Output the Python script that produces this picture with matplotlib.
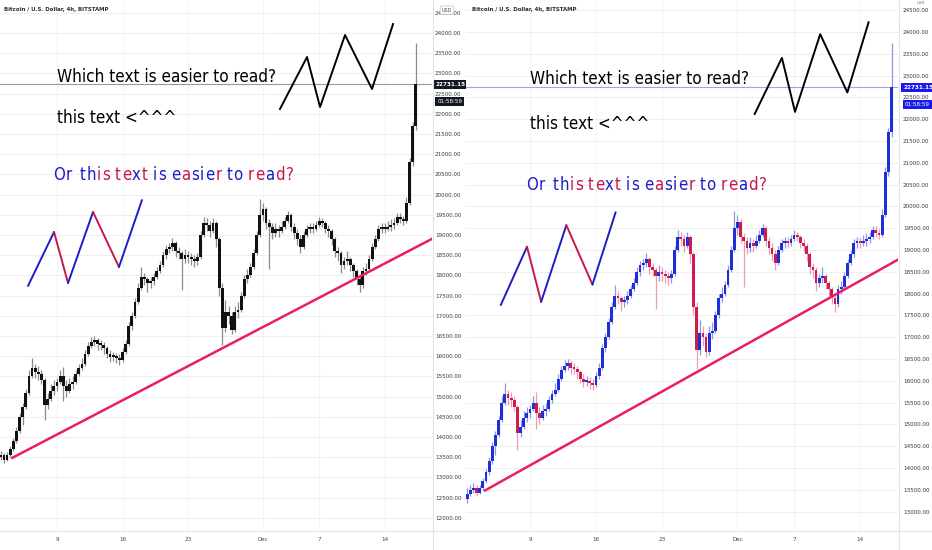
import numpy as np
import matplotlib
matplotlib.use("Agg")
import matplotlib.pyplot as plt
import matplotlib.transforms as mtransforms
from matplotlib import font_manager as fm
from matplotlib.lines import Line2D

# --- data: BTC/USD, one candle every 8 hours ---
# time axis = days counted from Nov 9 00:00
first_time = -6.667
step_days = 1 / 3
first_open = 13300

closes = [13400, 13500, 13550, 13420, 13550, 13700, 13900, 14150, 14500, 14750,
          15100, 15500, 15700, 15600, 15550, 15400, 14800, 14950, 15150, 15250,
          15350, 15500, 15250, 15150, 15300, 15350, 15550, 15700, 15800, 16050,
          16250, 16350, 16400, 16300, 16280, 16200, 16050, 15980, 16000, 15950,
          15900, 16100, 16300, 16750, 17000, 17350, 17700, 17950, 17900, 17800,
          17850, 17950, 18100, 18250, 18500, 18650, 18700, 18800, 18600, 18550,
          18400, 18500, 18450, 18400, 18350, 18450, 19000, 19300, 19250, 19100,
          19300, 18900, 17700, 16700, 17100, 17000, 16650, 17100, 17150, 17500,
          17900, 18000, 18200, 18550, 19000, 19500, 19650, 19300, 19200, 19050,
          19150, 19100, 19200, 19350, 19500, 19200, 19050, 18900, 18700, 19000,
          19150, 19200, 19150, 19250, 19350, 19300, 19150, 19100, 18900, 18600,
          18550, 18250, 18350, 18400, 18250, 18100, 17900, 17750, 18100, 18150,
          18400, 18700, 18900, 19150, 19200, 19150, 19200, 19250, 19300, 19450,
          19400, 19350, 19800, 20800, 21700, 22731.15]

highs = [13550, 13600, 13650, 13600, 13620, 13780, 13980, 14250, 14600, 14850,
         15200, 15650, 15950, 15800, 15750, 15650, 15450, 15100, 15300, 15400,
         15450, 15650, 15740, 15400, 15450, 15500, 15650, 15800, 15950, 16150,
         16350, 16480, 16500, 16450, 16400, 16350, 16250, 16150, 16100, 16080,
         16050, 16200, 16400, 16850, 17100, 17450, 17800, 18200, 18050, 17950,
         17950, 18050, 18200, 18350, 18600, 18750, 18800, 18920, 18850, 18700,
         18600, 18650, 18600, 18550, 18500, 18550, 19100, 19450, 19420, 19350,
         19420, 19350, 18950, 17800, 17400, 17250, 17100, 17250, 17350, 17600,
         18000, 18150, 18300, 18650, 19100, 19900, 19800, 19700, 19400, 19300,
         19300, 19250, 19350, 19450, 19600, 19550, 19300, 19150, 19000, 19100,
         19250, 19300, 19300, 19350, 19450, 19420, 19350, 19250, 19150, 18950,
         18700, 18600, 18450, 18600, 18450, 18300, 18150, 18000, 18200, 18300,
         18500, 18800, 19000, 19250, 19300, 19300, 19350, 19400, 19420, 19550,
         19550, 19480, 19950, 20900, 21800, 23750]

lows = [13200, 13350, 13420, 13360, 13400, 13500, 13650, 13850, 14100, 14300,
        14700, 15050, 15450, 15450, 15400, 15300, 14420, 14700, 14900, 15050,
        15150, 15300, 14900, 15000, 15100, 15200, 15300, 15500, 15650, 15750,
        16000, 16200, 16250, 16150, 16150, 16050, 15950, 15850, 15880, 15820,
        15780, 15850, 16050, 16250, 16650, 16950, 17300, 17650, 17750, 17600,
        17700, 17750, 17900, 18050, 18200, 18400, 18550, 18600, 18450, 18400,
        17650, 18300, 18300, 18250, 18200, 18250, 18400, 18950, 19100, 18950,
        19050, 18700, 17500, 16280, 16600, 16800, 16550, 16600, 16950, 17100,
        17450, 17800, 17950, 18150, 18500, 18950, 19350, 19150, 18150, 18900,
        18950, 18950, 19050, 19150, 19300, 19100, 18900, 18750, 18550, 18650,
        18950, 19050, 19050, 19100, 19200, 19200, 19050, 18950, 18750, 18450,
        18350, 18050, 18150, 18250, 18100, 17950, 17750, 17580, 17700, 18000,
        18100, 18350, 18650, 18850, 19050, 19050, 19100, 19100, 19150, 19250,
        19300, 19250, 19300, 19750, 20700, 21600]

last_price = 22731.15
countdown = "01:58:59"
title = "Bitcoin / U.S. Dollar, 4h, BITSTAMP"

date_ticks = [0, 7, 14, 22, 28, 35]
date_labels = ["9", "16", "23", "Dec", "7", "14"]

# drawings placed on the chart, as (day, price)
black_zz_t = [23.82, 26.71, 28.10, 30.77, 33.65, 35.90]
black_zz_p = [22119, 23406, 22168, 23950, 22614, 24223]
color_zz_t = [-3.10, -0.32, 1.18, 3.85, 6.62, 9.08]
color_zz_p = [17738, 19074, 17812, 19569, 18208, 19866]
trend_t = [-4.81, 33.65]
trend_p = [13480, 18130]

text1 = "Which text is easier to read?"
text2 = "this text <^^^"
text_pos = [(0.0, 22911), (0.0, 21896)]
words = ["Or", "this", "text", "is", "easier", "to", "read?"]
word_colors = ["bb", "bbrr", "rrbr", "bb", "brbbbr", "bb", "rrbrr"]
color_text_pos = (-0.43, 20485)

BLUE = "#1c1cc8"
RED = "#c8174a"
PINK = "#e91e63"

# --- fonts ---
names = {f.name for f in fm.fontManager.ttflist}
if "Liberation Sans Narrow" in names:
    NARROW = dict(family="Liberation Sans Narrow")
else:
    NARROW = dict(family="DejaVu Sans", stretch="condensed")

W, H = 932, 550
fig = plt.figure(figsize=(W / 100, H / 100), dpi=100)
renderer = fig.canvas.get_renderer()


def fit_size(s, target_px, **kw):
    t = fig.text(0, 0, s, fontsize=10, **kw)
    w = t.get_window_extent(renderer).width
    t.remove()
    return 10 * target_px / w


TICK_FS = fit_size("24000.00", 27, **NARROW)
TITLE_FS = fit_size(title, 105, weight="bold", **NARROW)
BIG_FS = fit_size(text1, 219, **NARROW)

axL = fig.add_axes([0, 19 / H, 432 / W, 531 / H])
axR = fig.add_axes([466 / W, 19 / H, 432 / W, 531 / H])

t = first_time + step_days * np.arange(len(closes))
c = np.array(closes, dtype=float)
o = np.concatenate([[first_open], c[:-1]])
hi = np.maximum(np.array(highs, dtype=float), np.maximum(o, c))
lo = np.minimum(np.array(lows, dtype=float), np.minimum(o, c))


def color_chain(ax, size):
    arts = []
    prev = None
    for wi, word in enumerate(words):
        for ci, ch in enumerate(word):
            col = BLUE if word_colors[wi][ci] == "b" else RED
            if prev is None:
                a = ax.text(color_text_pos[0], color_text_pos[1], ch, va="center",
                            ha="left", fontsize=size, color=col, zorder=5, **NARROW)
            else:
                gap = 0.06 * size if ci > 0 else (0.45 * size if wi == 1 else 0.3 * size)
                a = ax.annotate(ch, xy=(1, 0), xycoords=prev, xytext=(gap, 0),
                                textcoords="offset points", va="bottom", ha="left",
                                fontsize=size, color=col, zorder=5, **NARROW)
            arts.append(a)
            prev = a
    return arts


def draw_chart(ax, xlim, ylim, yticks, bodies, wicks, line_col, box_col, lab_pad):
    ax.set_xlim(*xlim)
    ax.set_ylim(*ylim)
    for s in ax.spines.values():
        s.set_visible(False)
    ax.set_yticks(yticks)
    ax.set_yticklabels([f"{v:.2f}" for v in yticks])
    ax.yaxis.tick_right()
    ax.tick_params(axis="y", length=0, pad=lab_pad, labelsize=TICK_FS, labelcolor="#3a3a3a")
    ax.set_xticks(date_ticks)
    ax.set_xticklabels(date_labels)
    ax.tick_params(axis="x", length=0, pad=4.5, labelsize=TICK_FS, labelcolor="#444444")
    for lab in ax.get_xticklabels() + ax.get_yticklabels():
        lab.set_fontproperties(fm.FontProperties(size=TICK_FS, **NARROW))
    ax.grid(axis="y", color="#efefef", lw=0.8)
    ax.grid(axis="x", color="#f5f5f5", lw=0.8)
    ax.set_axisbelow(True)

    up = c >= o
    dn = ~up
    for mask, bcol, wcol in [(up, bodies[0], wicks[0]), (dn, bodies[1], wicks[1])]:
        ax.vlines(t[mask], lo[mask], hi[mask], color=wcol, lw=0.9, zorder=2)
        height = np.maximum(np.abs(c[mask] - o[mask]), 45)
        ax.bar(t[mask], height, bottom=np.minimum(o[mask], c[mask]), width=0.3,
               color=bcol, linewidth=0, zorder=3)

    # trend ray to the right edge
    slope = (trend_p[1] - trend_p[0]) / (trend_t[1] - trend_t[0])
    x_end = xlim[1] + 1
    ax.plot([trend_t[0], x_end], [trend_p[0], trend_p[0] + slope * (x_end - trend_t[0])],
            color=PINK, lw=1.8, zorder=4, solid_capstyle="round")
    ax.plot(black_zz_t, black_zz_p, color="black", lw=1.4, zorder=4)
    for i in range(len(color_zz_t) - 1):
        col = BLUE if color_zz_p[i + 1] > color_zz_p[i] else RED
        ax.plot(color_zz_t[i:i + 2], color_zz_p[i:i + 2], color=col, lw=1.4, zorder=4,
                solid_capstyle="round")

    ax.text(text_pos[0][0], text_pos[0][1], text1, fontsize=BIG_FS, va="center",
            color="black", zorder=5, **NARROW)
    ax.text(text_pos[1][0], text_pos[1][1], text2, fontsize=BIG_FS, va="center",
            color="black", zorder=5, **NARROW)

    # last price line and labels
    ax.axhline(last_price, color=line_col, lw=0.8, zorder=1.8)
    trans = mtransforms.blended_transform_factory(ax.transAxes, ax.transData)
    off = mtransforms.ScaledTranslation(lab_pad / 72, 0, fig.dpi_scale_trans)
    ax.text(1.0, last_price, f"{last_price:.2f}", transform=trans + off, ha="left",
            va="center", fontsize=TICK_FS, color="white", weight="bold", zorder=6,
            bbox=dict(boxstyle="square,pad=0.35", fc=box_col, ec="none"), **NARROW)
    off2 = mtransforms.ScaledTranslation(lab_pad / 72 + 1.5 / 72, -12.5 / 72, fig.dpi_scale_trans)
    ax.text(1.0, last_price, countdown, transform=trans + off2, ha="left",
            va="center", fontsize=TICK_FS, color="white", zorder=6,
            bbox=dict(boxstyle="square,pad=0.3", fc=box_col, ec="none"), **NARROW)


draw_chart(axL, (-6.09, 40.06), (11673, 24817), np.arange(12000, 24501, 500),
           ("#111111", "#111111"), ("#8c8c8c", "#8c8c8c"), "#9a9a9a", "#131722", 2.2)
draw_chart(axR, (-6.79, 39.02), (12555, 24734), np.arange(13000, 24501, 500),
           ("#1f2fd8", "#cc1d4c"), ("#8d97ea", "#ea9db4"), "#a2a2ea", "#1a1aee", 3.6)

# multi-coloured sentence, sized to the screenshot width
arts = color_chain(axL, 10)
x0 = arts[0].get_window_extent(renderer).x0
x1 = arts[-1].get_window_extent(renderer).x1
color_fs = 10 * 240 / (x1 - x0)
for a in arts:
    a.remove()
color_chain(axL, color_fs)
color_chain(axR, color_fs)

# titles, USD badges, separators
fig.text(4 / W, 1 - 10 / H, title, fontsize=TITLE_FS, color="#2a2e39", va="center",
         weight="bold", **NARROW)
fig.text(472 / W, 1 - 10 / H, title, fontsize=TITLE_FS, color="#2a2e39", va="center",
         weight="bold", **NARROW)
fig.text(447 / W, 1 - 10 / H, "USD", ha="center", va="center", fontsize=TICK_FS * 0.85,
         color="#444444", zorder=10,
         bbox=dict(boxstyle="round,pad=0.3", fc="white", ec="#cccccc", lw=0.6), **NARROW)
fig.text(921 / W, 1 - 3 / H, "USD", ha="center", va="center", fontsize=TICK_FS * 0.7,
         color="#666666", zorder=10, **NARROW)
for xp in (432.5, 898.5):
    fig.add_artist(Line2D([xp / W, xp / W], [0, 1], color="#e0e3eb", lw=0.8))
fig.add_artist(Line2D([0, 1], [19 / H, 19 / H], color="#e0e3eb", lw=0.8))

fig.savefig("out.png", dpi=100, facecolor="white")
